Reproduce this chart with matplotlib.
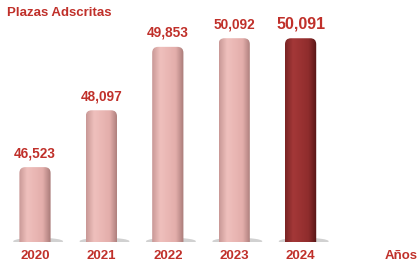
import numpy as np
import matplotlib.pyplot as plt
from matplotlib.patches import FancyBboxPatch, Ellipse
from matplotlib.colors import LinearSegmentedColormap
import matplotlib.transforms as mtransforms

plt.rcParams['font.family'] = ['Liberation Sans', 'DejaVu Sans']

years = ['2020', '2021', '2022', '2023', '2024']
plazas = [46523, 48097, 49853, 50092, 50091]
highlight = [False, False, False, False, True]

RED = '#c0302a'
BASE = 44450  # chart baseline (axis does not start at zero)

fig = plt.figure(figsize=(4.19, 2.62), dpi=100)
ax = fig.add_axes([0, 20 / 262, 1, 242 / 262])
ax.set_xlim(-0.527, 5.783)
ax.set_ylim(BASE, 51150)
ax.axis('off')

pink = LinearSegmentedColormap.from_list('pink', ['#c99896', '#efc0bd', '#eab7b4', '#e3aeab', '#a87a78'])
dark = LinearSegmentedColormap.from_list('dark', ['#7a2424', '#a43838', '#9a3232', '#8e2c2c', '#551515'])

xs = np.arange(len(years))
bars = ax.bar(xs, np.array(plazas) - BASE + 400, bottom=BASE - 400, width=0.47, alpha=0)

# px per data unit, to keep the top corners round
sx = 66.4
sy = 242 / (51150 - BASE)
aspect = sx / sy

for b, v, hl in zip(bars, plazas, highlight):
    x0, y0, w, h = b.get_x(), b.get_y(), b.get_width(), b.get_height()
    # soft shadow at the foot
    ax.add_patch(Ellipse((x0 + w * 0.6, BASE + 20), w * 1.6, 7 / sy,
                         color='#9a9a9a', alpha=0.45, lw=0, zorder=1))
    patch = FancyBboxPatch((x0, y0), w, h, boxstyle='round,pad=0,rounding_size=0.09',
                           mutation_aspect=aspect, fc='none', ec='none', zorder=2)
    ax.add_patch(patch)
    grad = np.linspace(0, 1, 64).reshape(1, -1)
    im = ax.imshow(grad, cmap=dark if hl else pink, extent=(x0, x0 + w, y0, y0 + h),
                   aspect='auto', zorder=2, interpolation='bicubic')
    im.set_clip_path(patch)
    # value label
    ax.annotate(f'{v:,}', (x0 + w / 2, v), xytext=(0, 5), textcoords='offset points',
                ha='center', va='bottom', color=RED, fontweight='bold',
                fontsize=11.5 if hl else 9.8)

ax.set_xlim(-0.527, 5.783)
ax.set_ylim(BASE, 51150)

trans = mtransforms.blended_transform_factory(ax.transData, fig.transFigure)
for x, yr in zip(xs, years):
    ax.text(x, 6 / 262, yr, transform=trans, ha='center', va='center',
            color=RED, fontweight='bold', fontsize=9.5)

fig.text(385 / 419, 6 / 262, 'Años', ha='left', va='center', color=RED,
         fontweight='bold', fontsize=9.5)
fig.text(7 / 419, 1 - 13 / 262, 'Plazas Adscritas', ha='left', va='center', color=RED,
         fontweight='bold', fontsize=9.5)

fig.savefig('out.png', dpi=100)
